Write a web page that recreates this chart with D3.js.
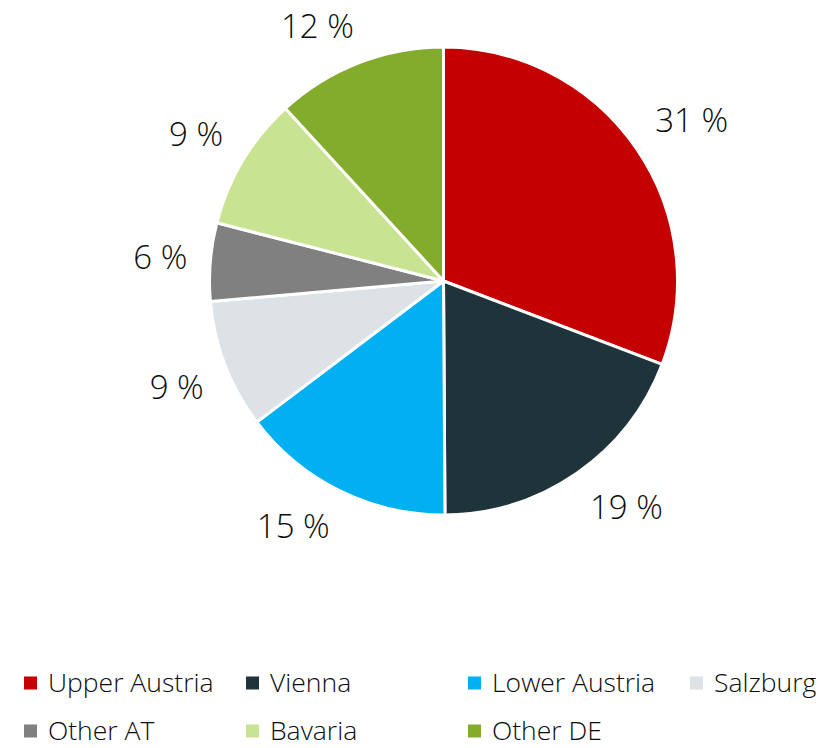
<!DOCTYPE html>
<html>
<head>
<meta charset="utf-8">
<script src="https://cdn.jsdelivr.net/npm/d3@7"></script>
<style>
  body { margin: 0; background: #fff; }
  text { font-family: "Open Sans", "Noto Sans", sans-serif; font-weight: 300; fill: #0d0d0d; }
</style>
</head>
<body>
<div id="pie_chart"></div>
<script>
// chart data (slice sizes, labels as printed)
var regions = ["Upper Austria", "Vienna", "Lower Austria", "Salzburg", "Other AT", "Bavaria", "Other DE"];
var shares = [30.8, 19.1, 14.8, 8.9, 5.4, 9.2, 11.8];
var shareLabels = ["31 %", "19 %", "15 %", "9 %", "6 %", "9 %", "12 %"];
var colors = ["#C40000", "#1F333A", "#00B0F0", "#DCE2E5", "#808080", "#C8E391", "#83AB2C"];

var width = 818, height = 748;
var cx = 443.5, cy = 281, radius = 234;
var labelRadius = 257;

var svg = d3.select("#pie_chart")
    .append("svg")
    .attr("width", width)
    .attr("height", height);

var color = d3.scaleOrdinal().domain(regions).range(colors);

var pie = d3.pie().sort(null).value(function (d, i) { return shares[i]; });
var arc = d3.arc().innerRadius(0).outerRadius(radius);

var arcs = pie(regions);

var g = svg.append("g")
    .attr("transform", "translate(" + cx + "," + cy + ")");

g.selectAll(".slice")
    .data(arcs)
    .enter()
    .append("path")
    .attr("class", "slice")
    .attr("d", arc)
    .attr("fill", function (d) { return color(d.data); })
    .attr("stroke", "#fff")
    .attr("stroke-width", 3)
    .attr("stroke-linejoin", "round");

// labels outside the slices: nearest corner of the text box sits at labelRadius
function clamp(v) { return Math.max(-1, Math.min(1, v)); }

var labels = g.selectAll(".label")
    .data(arcs)
    .enter()
    .append("text")
    .attr("class", "label")
    .attr("text-anchor", "middle")
    .attr("font-size", 33)
    .text(function (d, i) { return shareLabels[i]; });

labels.each(function (d) {
    var bb = this.getBBox();
    var a = (d.startAngle + d.endAngle) / 2;
    var ux = Math.sin(a), uy = -Math.cos(a);
    var hw = bb.width / 2, hh = 15;
    var x = ux * labelRadius + hw * clamp(2.5 * ux);
    var y = uy * labelRadius + hh * clamp(2.5 * uy);
    d3.select(this)
        .attr("x", x)
        .attr("y", y + 12);
});

// legend
var legendCols = 4, colWidth = 222, rowHeight = 48;
var legendX = 24, legendY = 683, boxSize = 13;

var legend = svg.selectAll(".legend")
    .data(regions)
    .enter()
    .append("g")
    .attr("class", "legend")
    .attr("transform", function (d, i) {
        var col = i % legendCols, row = Math.floor(i / legendCols);
        return "translate(" + (legendX + col * colWidth) + "," + (legendY + row * rowHeight) + ")";
    });

legend.append("rect")
    .attr("x", 0)
    .attr("y", -boxSize / 2)
    .attr("width", boxSize)
    .attr("height", boxSize)
    .style("fill", color);

legend.append("text")
    .attr("x", 24)
    .attr("y", 8.5)
    .attr("font-size", 26.5)
    .text(function (d) { return d; });
</script>
</body>
</html>
